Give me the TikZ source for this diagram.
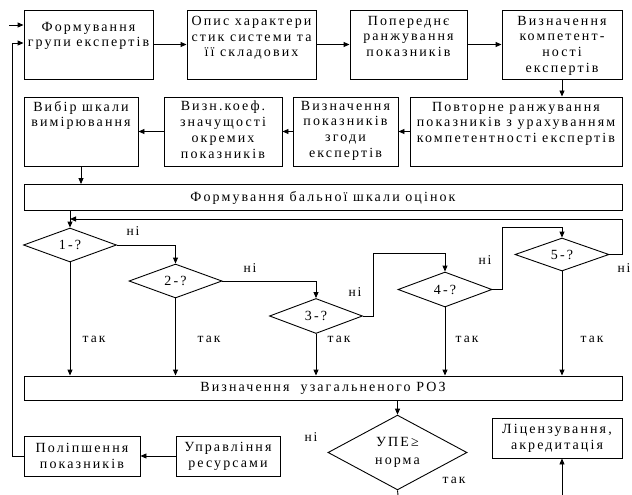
\documentclass[tikz,border=0pt]{standalone}
\usepackage{fontspec}
\setmainfont{Liberation Serif}[LetterSpace=15]
\usetikzlibrary{shapes.geometric,arrows.meta,calc}
\newcommand\boxtext[4]{\parbox[c][#2][t]{#1}{\centering\vspace*{#3}#4\par}}
\begin{document}
\begin{tikzpicture}[x=1pt,y=-1pt,
  every node/.style={font=\fontsize{14}{15.8}\selectfont},
  box/.style={draw,line width=0.9pt,inner sep=0pt,align=center},
  flat/.style={draw,line width=0.9pt,inner sep=0pt,align=center},
  dia/.style={draw,diamond,line width=0.9pt,inner sep=0pt,minimum width=93pt,minimum height=34pt},
  arr/.style={line width=0.9pt,-{Triangle[length=6pt,width=5pt]}},
  ln/.style={line width=0.9pt},
  yes/.style={font=\fontsize{13.5}{15}\selectfont},
  no/.style={font=\fontsize{13.5}{15}\selectfont}]
\useasboundingbox (0,0) rectangle (632,495);
% row 1
\node[box] (b1) at (88.5,44.5) {\boxtext{129pt}{69pt}{12pt}{Формування\\групи експертів}};
\node[box] (b2) at (251.5,44.5) {\boxtext{129pt}{69pt}{6pt}{Опис характери\\стик системи та\\її складових}};
\node[box] (b3) at (408.5,44.5) {\boxtext{117pt}{69pt}{6pt}{Попереднє\\ранжування\\показників}};
\node[box] (b4) at (562,44.5) {\boxtext{120pt}{69pt}{6pt}{Визначення\\компетент-\\ності\\експертів}};
% row 2
\node[box] (b5) at (81,131.5) {\boxtext{114pt}{69pt}{4pt}{Вибір шкали\\вимірювання}};
\node[box] (b6) at (223,131.5) {\boxtext{118pt}{69pt}{4pt}{Визн.коеф.\\значущості\\окремих\\показників}};
\node[box] (b7) at (345.5,131.5) {\boxtext{105pt}{69pt}{4pt}{Визначення\\показників\\згоди\\експертів}};
\node[box] (b8) at (516,131.5) {\boxtext{212pt}{69pt}{5pt}{Повторне ранжування\\показників з урахуванням\\компетентності експертів}};
% scale box
\node[flat,minimum width=598pt,minimum height=26pt] (b9) at (323,197.5) {Формування бальної шкали оцінок};
% diamonds
\node[dia] (d1) at (70,245) {1-?};
\node[dia] (d2) at (175.5,281) {2-?};
\node[dia,minimum height=35pt] (d3) at (316,316) {3-?};
\node[dia,minimum width=94pt,minimum height=35pt] (d4) at (445,289.5) {4-?};
\node[dia,minimum width=94pt,minimum height=33pt] (d5) at (562,254.5) {5-?};
% generalised box
\node[flat,minimum width=598pt,minimum height=24pt] (b10) at (323,388) {Визначення\ \ узагальненого РОЗ};
% bottom
\node[dia,minimum width=139pt,minimum height=69pt,align=center,font=\fontsize{14}{18}\selectfont] (upe) at (397.5,452.5) {УПЕ≥\\норма};
\node[box,minimum width=130pt,minimum height=40pt] (lic) at (557,438) {Ліцензування,\\акредитація};
\node[box,minimum width=116pt,minimum height=40pt] (poli) at (82,456) {Поліпшення\\показників};
\node[box,minimum width=104pt,minimum height=40pt] (upr) at (228,456) {Управління\\ресурсами};
% coordinates
\coordinate (lp) at (70,219);
\coordinate (fb) at (12,43);
\coordinate (st) at (9,25);
\coordinate (bot1) at (398,495);
\coordinate (bot2) at (562,495);
% connectors row 1/2
\draw[arr] (b1.east) -- (b2.west);
\draw[arr] (b2.east) -- (b3.west);
\draw[arr] (b3.east) -- (b4.west);
\draw[arr] (b4.south) -- (b4.south |- b8.north);
\draw[arr] (b8.west) -- (b7.east);
\draw[arr] (b7.west) -- (b6.east);
\draw[arr] (b6.west) -- (b5.east);
\draw[arr] (b5.south) -- (b5.south |- b9.north);
\draw[arr] (d1.north |- b9.south) -- (d1.north);
% "no" chain
\draw[arr] (d1.east) -| (d2.north);
\draw[arr] (d2.east) -| (d3.north);
\draw[arr] (d3.east) -- ++(10,0) |- ([yshift=18pt]d4.north) -- (d4.north);
\draw[arr] (d4.east) -- ++(10,0) |- ([yshift=10pt]d5.north) -- (d5.north);
\draw[arr] (d5.east) -- ++(13,0) |- (lp);
% "yes" arrows
\foreach \d in {d1,d2,d3,d4,d5} \draw[arr] (\d.south) -- (\d.south |- b10.north);
\draw[arr] (upe.north |- b10.south) -- (upe.north);
\draw[ln] (upe.south) -- (bot1);
\draw[arr] (bot2) -- (bot2 |- lic.south);
\draw[arr] (upr.west) -- (poli.east);
\draw[ln] (poli.west) -| (fb);
\draw[arr] (fb) -- (fb -| b1.west);
\draw[arr] (st) -- (st -| b1.west);
% labels
\node[no] (n1) at (133,231) {ні};
\node[no] (n2) at (250,268) {ні};
\node[no] (n3) at (355,292) {ні};
\node[no] (n4) at (485,260) {ні};
\node[no] (n5) at (624,268) {ні};
\node[no] (n6) at (311,437) {ні};
\node[yes] (y1) at (94,339) {так};
\node[yes] (y2) at (209,339) {так};
\node[yes] (y3) at (339,339) {так};
\node[yes] (y4) at (467,339) {так};
\node[yes] (y5) at (592,339) {так};
\node[yes] (y6) at (454,480) {так};
\end{tikzpicture}
\end{document}
